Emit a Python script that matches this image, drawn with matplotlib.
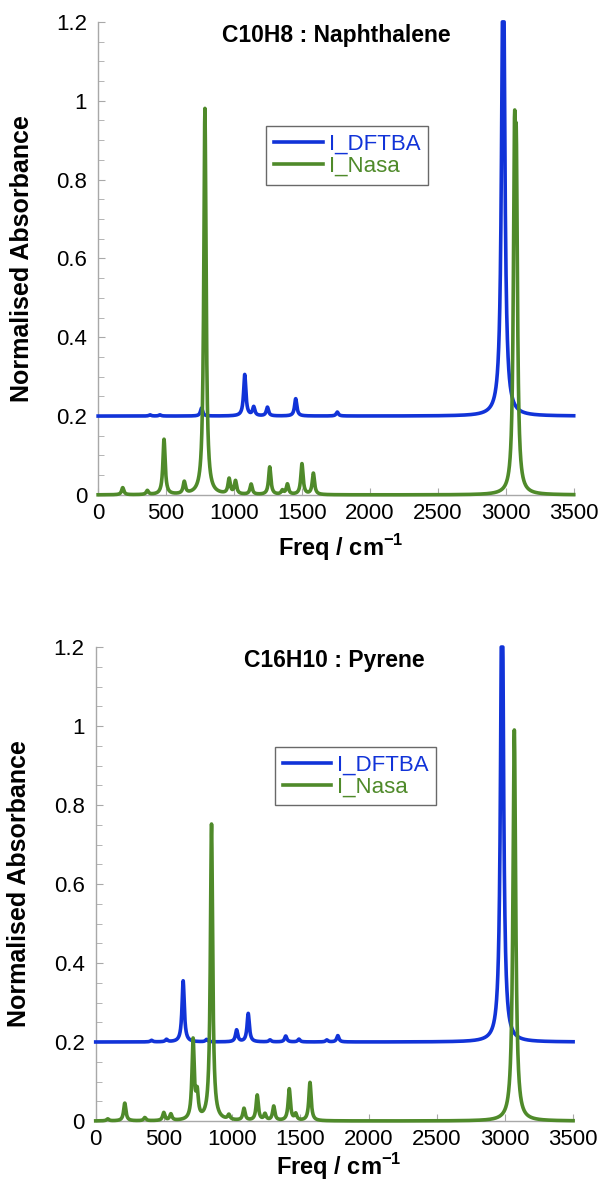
import numpy as np
import matplotlib
matplotlib.use("Agg")
import matplotlib.pyplot as plt
from matplotlib.ticker import MultipleLocator, FuncFormatter

plt.rcParams['font.family'] = ['Liberation Sans', 'DejaVu Sans']
plt.rcParams['mathtext.fontset'] = 'custom'
plt.rcParams['mathtext.rm'] = 'Liberation Sans'
plt.rcParams['mathtext.bf'] = 'Liberation Sans:bold'

# ---- peak lists (freq in cm-1, height) ----
# DFTBA heights are above the 0.2 offset used in the figure
naph_dftba_freq = [382, 455, 761, 1079, 1145, 1246, 1454, 1760, 2981]
naph_dftba_int = [0.003, 0.003, 0.02, 0.105, 0.022, 0.022, 0.044, 0.01, 1.3]
naph_dftba_width = [10, 10, 10, 10, 10, 10, 10, 10, 13]

naph_nasa_freq = [181, 362, 485, 634, 786, 964, 1011, 1126, 1263, 1356, 1393, 1500, 1584, 3064, 3078]
naph_nasa_int = [0.018, 0.01, 0.14, 0.03, 0.98, 0.038, 0.033, 0.026, 0.07, 0.01, 0.026, 0.078, 0.054, 0.73, 0.67]
naph_nasa_width = [10] * 15

pyr_dftba_freq = [409, 519, 641, 813, 1033, 1118, 1278, 1393, 1490, 1694, 1775, 2979]
pyr_dftba_int = [0.004, 0.006, 0.155, 0.006, 0.03, 0.072, 0.005, 0.015, 0.007, 0.005, 0.016, 1.3]
pyr_dftba_width = [10] * 11 + [12]

pyr_nasa_freq = [88, 213, 360, 499, 551, 714, 744, 849, 976, 1087, 1184, 1241, 1305, 1419, 1466, 1571, 3069]
pyr_nasa_int = [0.005, 0.045, 0.008, 0.02, 0.016, 0.2, 0.06, 0.75, 0.012, 0.03, 0.064, 0.016, 0.036, 0.08, 0.016, 0.097, 0.99]
pyr_nasa_width = [10] * 16 + [12]

dftba_offset = 0.2

BLUE = '#1133d8'
GREEN = '#4f8a2a'


def lorentz_spectrum(freq, peaks, heights, widths):
    """Sum of Lorentzians with given peak heights and half widths."""
    out = np.zeros_like(freq)
    for f0, h, g in zip(peaks, heights, widths):
        out += h * g ** 2 / ((freq - f0) ** 2 + g ** 2)
    return out


freq = np.arange(0, 3501, 1.0)

fig = plt.figure(figsize=(6.02, 11.84), dpi=100)
ax_top = fig.add_axes([0.163, 0.582, 0.790, 0.3995])
ax_bot = fig.add_axes([0.159, 0.0532, 0.793, 0.4003])

panels = [
    (ax_top, "C10H8 : Naphthalene",
     (naph_dftba_freq, naph_dftba_int, naph_dftba_width),
     (naph_nasa_freq, naph_nasa_int, naph_nasa_width),
     (0.354, 0.780), -0.078),
    (ax_bot, "C16H10 : Pyrene",
     (pyr_dftba_freq, pyr_dftba_int, pyr_dftba_width),
     (pyr_nasa_freq, pyr_nasa_int, pyr_nasa_width),
     (0.375, 0.790), -0.064),
]

for ax, title, dftba, nasa, leg_pos, xlab_y in panels:
    y_dftba = dftba_offset + lorentz_spectrum(freq, *dftba)
    y_nasa = lorentz_spectrum(freq, *nasa)
    ax.plot(freq, np.minimum(y_dftba, 1.2), color=BLUE, lw=2.6,
            label='I_DFTBA', clip_on=False, zorder=3)
    ax.plot(freq, np.minimum(y_nasa, 1.2), color=GREEN, lw=2.6,
            label='I_Nasa', clip_on=False, zorder=3)

    ax.set_xlim(0, 3500)
    ax.set_ylim(0, 1.2)
    ax.xaxis.set_major_locator(MultipleLocator(500))
    ax.yaxis.set_major_locator(MultipleLocator(0.2))
    ax.yaxis.set_minor_locator(MultipleLocator(0.05))
    ax.yaxis.set_major_formatter(FuncFormatter(lambda v, p: "%g" % round(v, 2)))

    for side in ['top', 'right']:
        ax.spines[side].set_visible(False)
    for side in ['left', 'bottom']:
        ax.spines[side].set_color('#a8a8a8')
        ax.spines[side].set_linewidth(1.0)
    ax.tick_params(which='both', direction='in', color='#a8a8a8', labelsize=16)
    ax.tick_params(which='major', length=5)
    ax.tick_params(which='minor', length=4)
    ax.tick_params(axis='y', pad=8)
    ax.tick_params(axis='x', pad=6)

    ax.text(1750, 1.165, title, ha='center', va='center',
            fontsize=16.5, fontweight='bold')

    ax.set_ylabel('Normalised Absorbance', fontsize=18, fontweight='bold')
    ax.yaxis.set_label_coords(-0.135, 0.5)
    ax.set_xlabel(r'Freq / cm$^{\mathbf{-1}}$', fontsize=17, fontweight='bold')
    ax.xaxis.set_label_coords(0.51, xlab_y)

    leg = ax.legend(loc='upper left', bbox_to_anchor=leg_pos, fontsize=16,
                    frameon=True, fancybox=False, edgecolor='#444444',
                    handlelength=2.2, handletextpad=0.25, labelspacing=0.05,
                    borderpad=0.35, borderaxespad=0, labelcolor='linecolor')
    leg.get_frame().set_linewidth(1.0)

fig.savefig('out.png', dpi=100)
